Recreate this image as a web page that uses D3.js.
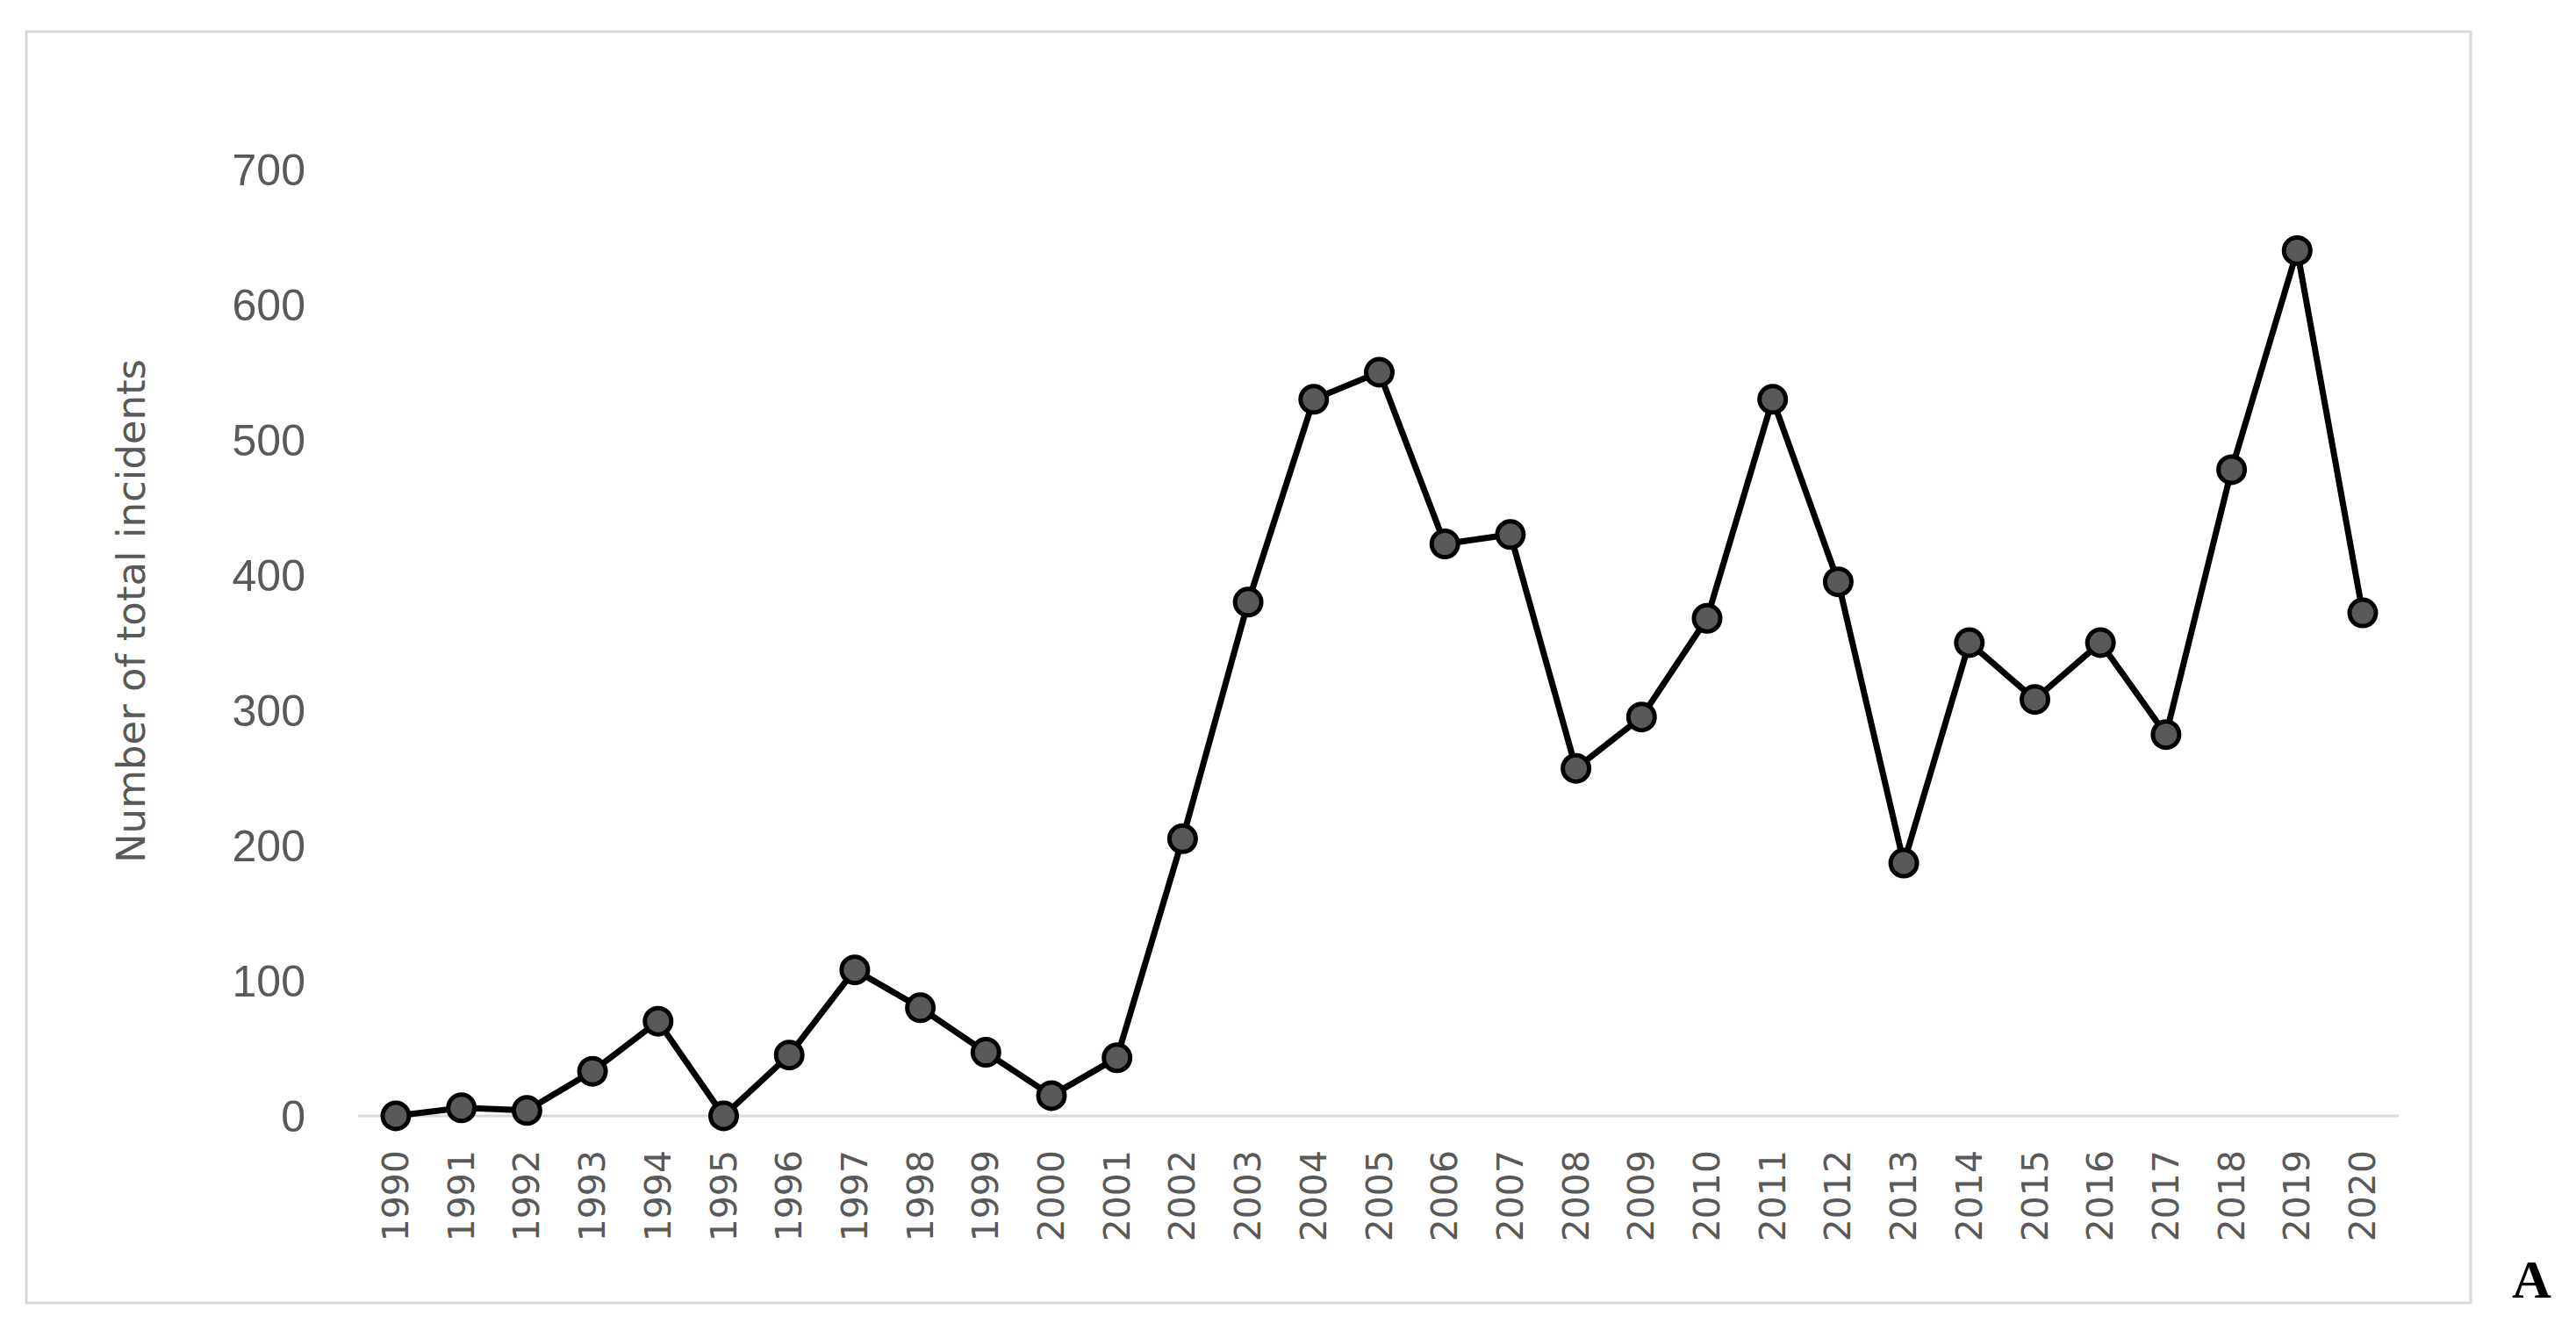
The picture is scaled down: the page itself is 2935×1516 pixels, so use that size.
<!DOCTYPE html>
<html><head><meta charset="utf-8">
<script src="https://cdn.jsdelivr.net/npm/d3@7"></script>
<style>body{margin:0;background:#fff}</style>
</head><body><div id="chart"></div>
<script>
// Datos
const years = d3.range(1990, 2021).map(String);
const incidents = [0, 6, 4, 33, 70, 0, 45, 108, 80, 47, 15, 43, 205, 380, 530, 550, 423, 430, 257, 295, 368, 530, 395, 187, 350, 308, 350, 282, 478, 640, 372];
const yTicks = [0, 100, 200, 300, 400, 500, 600, 700];

const W = 2935, H = 1516;
const svg = d3.select("#chart").append("svg").attr("width", W).attr("height", H);

// Marco
svg.append("rect").attr("x", 30).attr("y", 36).attr("width", 2785).attr("height", 1448)
  .attr("fill", "none").attr("stroke", "#d9d9d9").attr("stroke-width", 3);

// Escalas
const x = d3.scalePoint().domain(years).range([451, 2692]);
const y = d3.scaleLinear().domain([0, 700]).range([1271, 193]);

// Línea base
svg.append("line").attr("x1", 408).attr("x2", 2733).attr("y1", y(0)).attr("y2", y(0))
  .attr("stroke", "#d9d9d9").attr("stroke-width", 3);

// Eje Y
svg.append("g").selectAll("text").data(yTicks).join("text")
  .attr("x", 348).attr("y", d => y(d)).attr("dy", "0.36em")
  .attr("text-anchor", "end").attr("fill", "#595959")
  .style("font-family", "'Liberation Sans Narrow', 'Liberation Sans', sans-serif")
  .style("font-size", "50px").text(d => d);

// Eje X
svg.append("g").selectAll("text").data(years).join("text")
  .attr("transform", d => `translate(${x(d) + 14},1310) rotate(-90)`)
  .attr("text-anchor", "end").attr("fill", "#595959")
  .style("font-family", "'DejaVu Sans', sans-serif")
  .style("font-size", "41px").text(d => d);

// Título eje Y
svg.append("text").attr("transform", "translate(165,696) rotate(-90)")
  .attr("text-anchor", "middle").attr("fill", "#595959")
  .style("font-family", "'DejaVu Sans', sans-serif").style("font-size", "45px")
  .text("Number of total incidents");

// Línea
const line = d3.line().x((d, i) => x(years[i])).y(d => y(d));
svg.append("path").datum(incidents).attr("d", line)
  .attr("fill", "none").attr("stroke", "#000").attr("stroke-width", 7).attr("stroke-linejoin", "round");

// Marcadores
svg.append("g").selectAll("circle").data(incidents).join("circle")
  .attr("cx", (d, i) => x(years[i])).attr("cy", d => y(d)).attr("r", 15)
  .attr("fill", "#595959").attr("stroke", "#000").attr("stroke-width", 5);

// Letra del panel
svg.append("text").attr("x", 2862).attr("y", 1478)
  .style("font-family", "'Liberation Serif', serif").style("font-weight", "bold").style("font-size", "62px")
  .text("A");
</script></body></html>
